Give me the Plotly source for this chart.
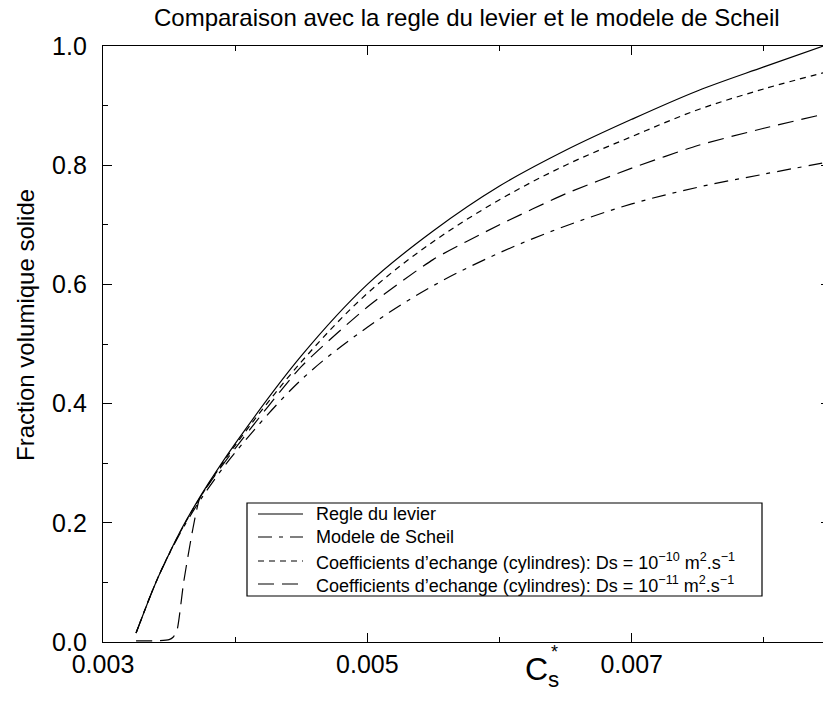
import plotly.graph_objects as go

# ---- data ----
cs_lever = [0.00325, 0.0034, 0.0035, 0.0036, 0.0037, 0.0038, 0.0040, 0.0045, 0.0050, 0.0055,
            0.0060, 0.0065, 0.0070, 0.0075, 0.0080, 0.00845]
fs_lever = [0.015, 0.10, 0.148, 0.192, 0.231, 0.267, 0.333, 0.48, 0.60, 0.69,
            0.765, 0.825, 0.877, 0.925, 0.965, 1.0]

cs_scheil = [0.00325, 0.0034, 0.0035, 0.0036, 0.0037, 0.0038, 0.0040, 0.0045, 0.0050, 0.0055,
             0.0060, 0.0065, 0.0070, 0.0075, 0.0080, 0.0085]
fs_scheil = [0.015, 0.10, 0.147, 0.189, 0.226, 0.259, 0.318, 0.44, 0.528, 0.598,
             0.653, 0.698, 0.735, 0.763, 0.785, 0.806]

cs_d10 = [0.00325, 0.0034, 0.0035, 0.0036, 0.0037, 0.0038, 0.0040, 0.0045, 0.0050, 0.0055,
          0.0060, 0.0065, 0.0070, 0.0075, 0.0080, 0.0085]
fs_d10 = [0.015, 0.10, 0.148, 0.191, 0.23, 0.265, 0.33, 0.47, 0.585, 0.672,
          0.742, 0.80, 0.848, 0.893, 0.928, 0.958]

cs_d11 = [0.00325, 0.0034, 0.0035, 0.00353, 0.00356, 0.00361, 0.00368, 0.00373,
          0.0038, 0.0040, 0.0045, 0.0050, 0.0055, 0.0060, 0.0065, 0.0070,
          0.0075, 0.0080, 0.0085]
fs_d11 = [0.002, 0.002, 0.004, 0.008, 0.02, 0.10, 0.19, 0.24,
          0.265, 0.325, 0.462, 0.562, 0.642, 0.70, 0.752, 0.795,
          0.833, 0.862, 0.888]

names = [
    "Regle du levier",
    "Modele de Scheil",
    "Coefficients d\u2019echange (cylindres): Ds = 10<sup>\u221210</sup> m<sup>2</sup>.s<sup>\u22121</sup>",
    "Coefficients d\u2019echange (cylindres): Ds = 10<sup>\u221211</sup> m<sup>2</sup>.s<sup>\u22121</sup>",
]
dashes = ["solid", "14px,7px,4px,7px", "6px,5px", "16px,8px"]
smooth = [1.0, 1.0, 1.0, 0.6]

title_text = "Comparaison avec la regle du levier et le modele de Scheil"
ytitle_text = "Fraction volumique solide"

FONT = "Liberation Sans, Arial, Helvetica, sans-serif"

# plot-area geometry in pixels (used to place legend/annotations)
L, T, PW, PH = 103, 46, 727, 596


def px(xp):
    return (xp - L) / PW


def py(yp):
    return (T + PH - yp) / PH


fig = go.Figure()
series = [(cs_lever, fs_lever), (cs_scheil, fs_scheil), (cs_d10, fs_d10), (cs_d11, fs_d11)]
for (xs, ys), nm, dash, sm in zip(series, names, dashes, smooth):
    fig.add_trace(go.Scatter(
        x=xs, y=ys, mode="lines", name=nm, showlegend=False,
        line=dict(color="black", width=1.2, dash=dash, shape="spline", smoothing=sm),
    ))

axis_common = dict(
    showline=True, linecolor="black", linewidth=1.3, mirror="ticks",
    ticks="inside", tickcolor="black", tickwidth=1.3, ticklen=9,
    showgrid=False, zeroline=False,
    tickfont=dict(family=FONT, size=25, color="black"),
)

fig.update_xaxes(
    range=[0.003, 0.0085], tick0=0.003, dtick=0.002, tickformat=".3f",
    minor=dict(ticks="inside", ticklen=5, tickcolor="black", tickwidth=1.3,
               dtick=0.001, tick0=0.003, showgrid=False),
    ticklabelstandoff=0,
    **axis_common,
)
fig.update_yaxes(
    range=[0, 1], tick0=0, dtick=0.2, tickformat=".1f",
    minor=dict(ticks="inside", ticklen=5, tickcolor="black", tickwidth=1.3,
               dtick=0.1, tick0=0, showgrid=False),
    ticklabelstandoff=10,
    **axis_common,
)

fig.add_annotation(text=title_text, xref="paper", yref="paper", x=0.5, y=py(18),
                   showarrow=False, xanchor="center", yanchor="middle",
                   font=dict(family=FONT, size=24, color="black"))
fig.add_annotation(text=ytitle_text, xref="paper", yref="paper", x=px(25),
                   y=py(325), showarrow=False, textangle=-90,
                   xanchor="center", yanchor="middle",
                   font=dict(family=FONT, size=24, color="black"))
fig.add_annotation(text="C<sub>s</sub>", xref="paper", yref="paper", x=px(542),
                   y=py(671), showarrow=False, xanchor="center", yanchor="middle",
                   font=dict(family=FONT, size=32, color="black"))
fig.add_annotation(text="*", xref="paper", yref="paper", x=px(554),
                   y=py(652), showarrow=False, xanchor="center", yanchor="middle",
                   font=dict(family=FONT, size=18, color="black"))

# ---- legend drawn as a framed box with sample lines and labels ----
box_l, box_t, box_r, box_b = 247, 503, 762, 596
fig.add_shape(type="rect", xref="paper", yref="paper",
              x0=px(box_l), x1=px(box_r), y0=py(box_b), y1=py(box_t),
              line=dict(color="black", width=1.2), fillcolor="white", layer="above")
row_y = [514, 537, 561, 584]
for nm, dash, ry in zip(names, dashes, row_y):
    fig.add_shape(type="line", xref="paper", yref="paper",
                  x0=px(258), x1=px(303), y0=py(ry), y1=py(ry),
                  line=dict(color="black", width=1.2, dash=dash), layer="above")
    fig.add_annotation(text=nm, xref="paper", yref="paper", x=px(314), y=py(ry),
                       showarrow=False, xanchor="left", yanchor="middle",
                       font=dict(family=FONT, size=18, color="black"))

fig.update_layout(
    width=835, height=719,
    margin=dict(l=L, r=835 - L - PW, t=T, b=719 - T - PH),
    plot_bgcolor="white", paper_bgcolor="white",
    font=dict(family=FONT, color="black"),
    showlegend=False,
)

fig.write_html("out.html")
